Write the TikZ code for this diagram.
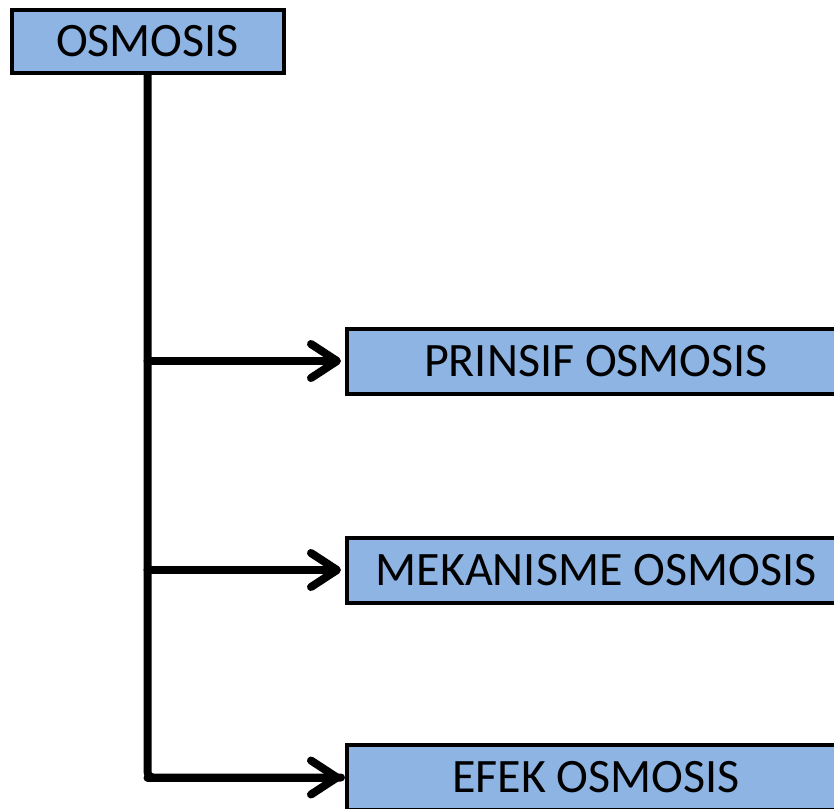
\documentclass[tikz,border=0pt]{standalone}
\usepackage{fontspec}
\setmainfont{Carlito}
\usepackage{xcolor}
\usetikzlibrary{arrows.meta}
\definecolor{boxblue}{RGB}{142,180,227}

\begin{document}
\begin{tikzpicture}[
  x=0.5pt,y=-0.5pt,
  box/.style={draw,line width=2pt,fill=boxblue,inner sep=0pt,
              minimum height=32.5pt,text centered,font=\fontsize{24}{27}\selectfont},
  topbox/.style={box,minimum width=136pt,minimum height=31.5pt},
  subbox/.style={box,minimum width=249pt},
  conn/.style={line width=4pt,line cap=round,line join=round},
  arr/.style={conn,-{Straight Barb[length=13pt,width=17pt,line cap=round,line join=round]}}
]
\useasboundingbox (0,0) rectangle (834,808);
\clip (0,0) rectangle (834,808);
\node[topbox] (OSM) at (147.5,41.5) {OSMOSIS};
\node[subbox] (PRI) at (596,361)   {PRINSIF OSMOSIS};
\node[subbox] (MEK) at (596,570)   {MEKANISME OSMOSIS};
\node[subbox] (EFK) at (596,777.5) {EFEK OSMOSIS};

\draw[conn,rounded corners=3pt] (OSM.south) |- ([xshift=-2pt]EFK.west);
\draw[arr] (OSM.south |- PRI.west) -- ([xshift=-2pt]PRI.west);
\draw[arr] (OSM.south |- MEK.west) -- ([xshift=-2pt]MEK.west);
\draw[arr] (OSM.south |- EFK.west) -- ([xshift=-2pt]EFK.west);
\end{tikzpicture}
\end{document}
